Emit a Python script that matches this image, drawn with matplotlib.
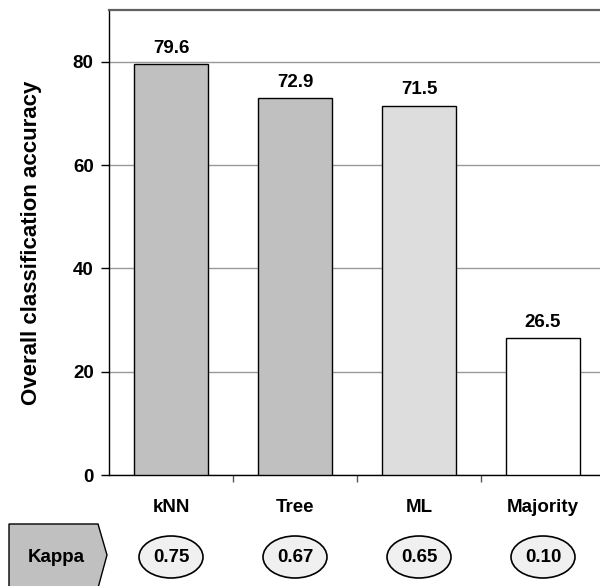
import matplotlib
matplotlib.use("Agg")
import matplotlib.pyplot as plt
from matplotlib.patches import Ellipse, Polygon
from matplotlib.transforms import blended_transform_factory

# Data
methods = ["kNN", "Tree", "ML", "Majority"]
accuracy = [79.6, 72.9, 71.5, 26.5]
kappa = ["0.75", "0.67", "0.65", "0.10"]
bar_colors = ["#C0C0C0", "#C0C0C0", "#DDDDDD", "#FFFFFF"]
y_ticks = [0, 20, 40, 60, 80]
y_max = 90

plt.rcParams["font.family"] = ["Liberation Sans", "DejaVu Sans"]
plt.rcParams["font.weight"] = "bold"

W, H = 600, 586
fig = plt.figure(figsize=(W / 100, H / 100), dpi=100)
ax = fig.add_axes([109 / W, (H - 475) / H, (605 - 109) / W, (475 - 10) / H])

x = list(range(len(methods)))
ax.bar(x, accuracy, width=0.59, color=bar_colors, edgecolor="black",
       linewidth=1.0, zorder=3)

for xi, v in zip(x, accuracy):
    ax.annotate(f"{v:.1f}", (xi, v), xytext=(0, 8), textcoords="offset points",
                ha="center", va="baseline", fontsize=13.5, fontweight="bold")

ax.set_xlim(-0.5, len(methods) - 0.5)
ax.set_ylim(0, y_max)
ax.set_yticks(y_ticks)
ax.set_yticklabels([str(t) for t in y_ticks], fontsize=13.5, fontweight="bold")
ax.yaxis.grid(True, color="#999999", linewidth=1.0, zorder=0)
ax.set_axisbelow(True)
ax.tick_params(axis="y", direction="out", length=6, width=1, pad=5)

# category boundary ticks on the x axis
ax.set_xticks([i + 0.5 for i in range(len(methods) - 1)])
ax.set_xticklabels([])
ax.tick_params(axis="x", direction="out", length=5, width=1, color="#555555")

ax.spines["right"].set_visible(False)
ax.spines["top"].set_visible(False)
ax.spines["left"].set_linewidth(1.0)
ax.spines["bottom"].set_linewidth(1.0)
# dark frame line along the top of the plot area
ax.axhline(y_max, color="#606060", linewidth=1.6, clip_on=False, zorder=5)

ax.set_ylabel("Overall classification accuracy", fontsize=16, fontweight="bold",
              labelpad=22)

# category names below the axis
trans = blended_transform_factory(ax.transData, fig.transFigure)
for xi, name in zip(x, methods):
    ax.text(xi, (H - 507) / H, name, transform=trans, ha="center", va="center",
            fontsize=13.5, fontweight="bold")

# Kappa row
def px(xp, yp):
    return (xp / W, (H - yp) / H)

arrow = Polygon([px(9, 524), px(98, 524), px(107, 555), px(98, 588), px(9, 588)],
                closed=True, facecolor="#C0C0C0", edgecolor="black",
                linewidth=1.0, transform=fig.transFigure, clip_on=False)
fig.patches.append(arrow)
fig.text(56.5 / W, (H - 557) / H, "Kappa", ha="center", va="center",
         fontsize=13.5, fontweight="bold")

ky = (H - 557) / H
for xi, k in zip(x, kappa):
    e = Ellipse((xi, ky), width=64 / 124.0, height=42 / H, transform=trans,
                facecolor="#F0F0F0", edgecolor="black", linewidth=1.2,
                clip_on=False)
    ax.add_artist(e)
    ax.text(xi, ky, k, transform=trans, ha="center", va="center",
            fontsize=13.5, fontweight="bold", clip_on=False)

fig.savefig("out.png", dpi=100)
